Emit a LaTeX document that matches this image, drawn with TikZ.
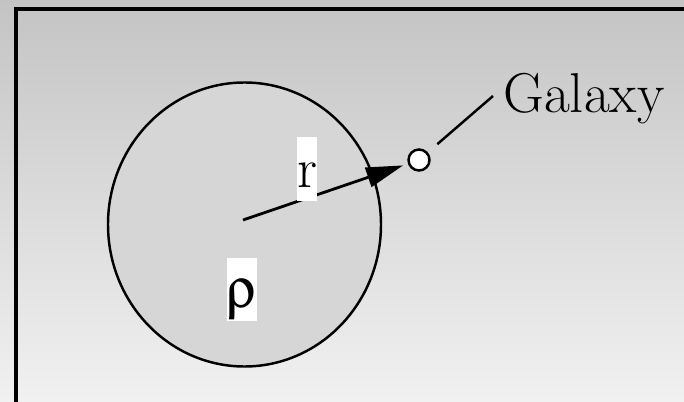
\documentclass[tikz,border=0pt]{standalone}
\usepackage{fontspec}
\usepackage[Symbol]{upgreek}
\usetikzlibrary{positioning,arrows.meta,shapes.geometric}
\definecolor{bgtop}{RGB}{196,196,196}
\definecolor{bgbottom}{RGB}{241,241,241}
\definecolor{blobgray}{RGB}{214,214,214}

\begin{document}
\begin{tikzpicture}[
  font=\fontsize{32}{38}\selectfont,
  blob/.style={draw, ellipse, line width=1.4pt, fill=blobgray, minimum width=5.46cm, minimum height=5.68cm},
  galaxy/.style={draw, circle, line width=1.4pt, fill=white, inner sep=0pt, minimum size=0.42cm},
  tag/.style={fill=white, inner xsep=0pt, inner ysep=0pt, text height=28.5pt, text depth=7.8pt},
  arrow/.style={-{Triangle[length=0.74cm,width=0.4cm]}, line width=1.6pt, shorten >=0.1cm},
  leader/.style={line width=1.4pt, shorten <=0.25cm}
]
\useasboundingbox (0,0) rectangle (13.68,8.02);
\shade[top color=bgtop, bottom color=bgbottom] (0,0) rectangle (13.68,8.02);
\draw[line width=1.9pt] (0.32,-0.2) -- (0.32,7.84) -- (13.9,7.84);

\node[blob](sphere) at (4.89,3.53){};
\coordinate (centre) at (4.86,3.62);
\node[galaxy](gal) at (8.38,4.82){};
\node[anchor=base west, inner sep=0pt](galname) at (10.06,5.76){Galaxy};

\draw[arrow] (centre)--(gal);
\draw[leader] (gal)--([xshift=-0.2cm,yshift=0.34cm]galname.base west);

\node[tag](radius) at (6.14,4.64){r};
\node[tag](density) at (4.84,2.23){$\uprho$};
\end{tikzpicture}
\end{document}
